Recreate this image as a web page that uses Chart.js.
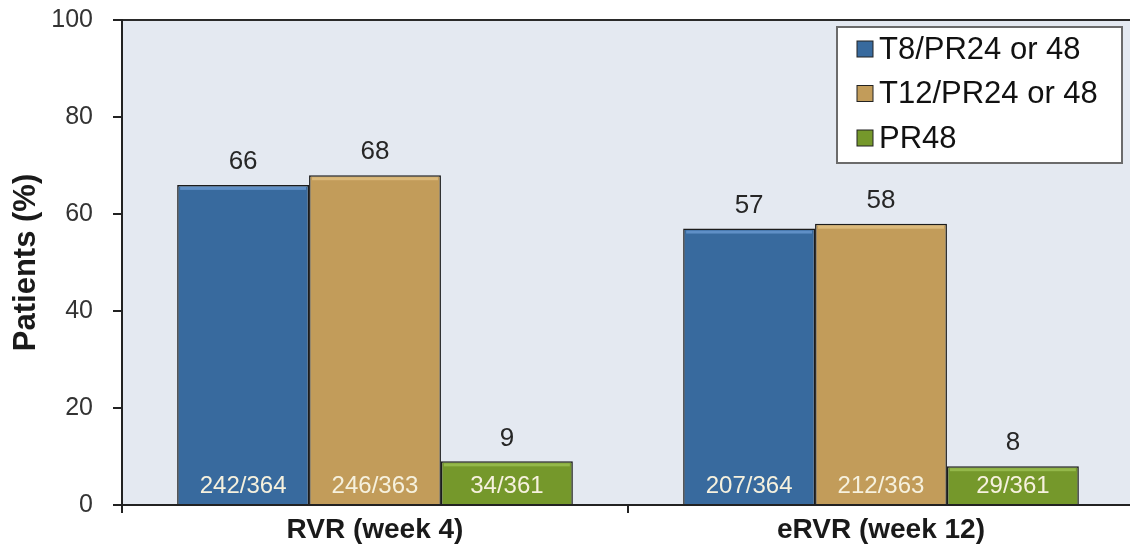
<!DOCTYPE html>
<html>
<head>
<meta charset="utf-8">
<script src="https://cdn.jsdelivr.net/npm/chart.js@4/dist/chart.umd.min.js"></script>
<style>
  html, body { margin: 0; padding: 0; background: #fff; overflow: hidden; }
  #wrap { position: relative; width: 1134px; height: 544px; }
</style>
</head>
<body>
<div id="wrap"><canvas id="chart"></canvas></div>
<script>
// ---------- data ----------
const categories = ['RVR (week 4)', 'eRVR (week 12)'];
const seriesNames = ['T8/PR24 or 48', 'T12/PR24 or 48', 'PR48'];
const t8Values = [66, 57];
const t12Values = [68, 58];
const pr48Values = [9, 8];
const t8Counts = ['242/364', '207/364'];
const t12Counts = ['246/363', '212/363'];
const pr48Counts = ['34/361', '29/361'];
const yTicks = [0, 20, 40, 60, 80, 100];

const FONT = '"Liberation Sans", Arial, sans-serif';
const colors = ['#386a9e', '#c29c5a', '#75982b'];
const highlights = ['#5f8fc6', '#dbb97a', '#94b84a'];

// plot background + top border
const plotBg = {
  id: 'plotBg',
  beforeDraw(chart) {
    const { ctx, chartArea: a } = chart;
    ctx.save();
    ctx.fillStyle = '#e4e9f1';
    ctx.fillRect(a.left, a.top, a.right - a.left, a.bottom - a.top);
    ctx.strokeStyle = '#2a2a2a';
    ctx.lineWidth = 2;
    ctx.beginPath();
    ctx.moveTo(a.left, a.top);
    ctx.lineTo(a.right, a.top);
    ctx.stroke();
    ctx.restore();
  },
};

// bevel strip, value labels above bars, counts inside bars
const barLabels = {
  id: 'barLabels',
  afterDatasetsDraw(chart) {
    const { ctx } = chart;
    ctx.save();
    ctx.textAlign = 'center';
    ctx.textBaseline = 'middle';
    chart.data.datasets.forEach((ds, i) => {
      const meta = chart.getDatasetMeta(i);
      meta.data.forEach((bar, j) => {
        const half = bar.width / 2;
        ctx.fillStyle = highlights[i];
        ctx.fillRect(bar.x - half + 3, bar.y + 2, bar.width - 6, 3);

        ctx.font = '26px ' + FONT;
        ctx.fillStyle = '#262626';
        ctx.fillText(String(ds.data[j]), bar.x, bar.y - 23);
        ctx.font = '24px ' + FONT;
        ctx.fillStyle = '#f6f1de';
        ctx.fillText(ds.counts[j], bar.x, bar.base - 18);
      });
    });
    ctx.restore();
  },
};

// boxed legend in the top-right corner of the plot
const boxLegend = {
  id: 'boxLegend',
  afterDraw(chart) {
    const { ctx, chartArea: a } = chart;
    const x = a.right - 297, y = a.top + 7, w = 285, h = 136;
    ctx.save();
    ctx.fillStyle = '#fff';
    ctx.fillRect(x, y, w, h);
    ctx.strokeStyle = '#6b6b6b';
    ctx.lineWidth = 2;
    ctx.strokeRect(x, y, w, h);
    ctx.textBaseline = 'middle';
    ctx.font = '31px ' + FONT;
    chart.data.datasets.forEach((ds, i) => {
      const cy = y + 22 + i * 44.5;
      ctx.fillStyle = ds.backgroundColor;
      ctx.fillRect(x + 20, cy - 8, 16, 16);
      ctx.strokeStyle = '#222';
      ctx.lineWidth = 1;
      ctx.strokeRect(x + 20, cy - 8, 16, 16);
      ctx.fillStyle = '#111';
      ctx.fillText(ds.label, x + 42, cy + 1);
    });
    ctx.restore();
  },
};

const seriesValues = [t8Values, t12Values, pr48Values];
const seriesCounts = [t8Counts, t12Counts, pr48Counts];

new Chart(document.getElementById('chart'), {
  type: 'bar',
  data: {
    labels: categories,
    datasets: seriesNames.map((name, i) => ({
      label: name,
      data: seriesValues[i],
      counts: seriesCounts[i],
      backgroundColor: colors[i],
      borderColor: '#1c1c1c',
      borderWidth: 1.5,
      categoryPercentage: 0.782,
      barPercentage: 1.0,
    })),
  },
  options: {
    responsive: true,
    maintainAspectRatio: false,
    animation: false,
    layout: { padding: { top: 20, right: 0, left: 0, bottom: 0 } },
    plugins: {
      legend: { display: false },
      tooltip: { enabled: false },
    },
    scales: {
      x: {
        grid: { display: true, drawOnChartArea: false, offset: true, color: '#222', lineWidth: 2, tickLength: 8 },
        border: { color: '#222', width: 2 },
        ticks: { color: '#1a1a1a', font: { family: FONT, size: 28, weight: 'bold' }, padding: 0 },
        afterFit(scale) { scale.height = 39; scale.paddingLeft = 0; scale.paddingRight = 0; },
      },
      y: {
        min: 0,
        max: 100,
        afterBuildTicks(scale) { scale.ticks = yTicks.map((v) => ({ value: v })); },
        grid: { drawOnChartArea: false, color: '#222', lineWidth: 2, tickLength: 9 },
        border: { color: '#222', width: 2 },
        ticks: { color: '#333', font: { family: FONT, size: 25 }, padding: 20 },
        title: {
          display: true,
          text: 'Patients (%)',
          color: '#1a1a1a',
          font: { family: FONT, size: 31, weight: 'bold' },
          padding: { top: 8, bottom: 0 },
        },
        afterFit(scale) { scale.width = 122; scale.paddingTop = 0; scale.paddingBottom = 0; },
      },
    },
  },
  plugins: [plotBg, barLabels, boxLegend],
});
</script>
</body>
</html>
